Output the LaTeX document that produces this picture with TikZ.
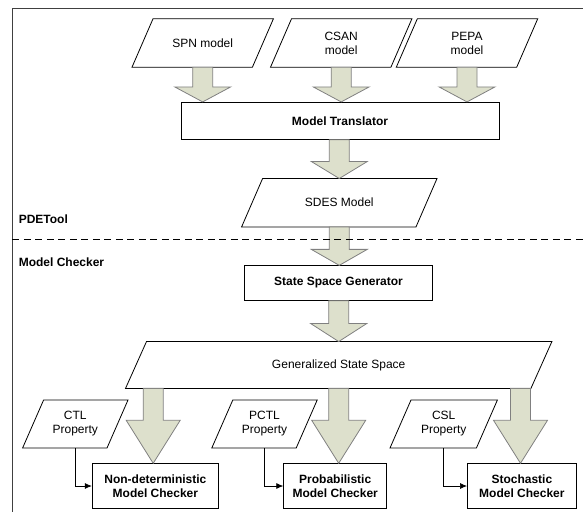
\documentclass[tikz,border=0pt]{standalone}
\usepackage{fontspec}
\setmainfont{Liberation Sans}
\usetikzlibrary{calc,arrows.meta}
\definecolor{arrfill}{HTML}{DDE0CC}
\definecolor{arrline}{HTML}{808080}
\tikzset{
  ptext/.style={draw=none,align=center,inner sep=0pt,font=\fontsize{12}{14}\selectfont},
  pline/.style={draw=black,line width=0.8pt,fill=white},
  boxnode/.style={draw=black,line width=0.8pt,fill=white,align=center,inner sep=0pt,font=\fontsize{12}{14.5}\selectfont\bfseries},
  fatarr/.style={draw=arrline,line width=0.8pt,fill=arrfill,line join=miter},
  lbl/.style={anchor=west,inner sep=0pt,font=\fontsize{12}{14}\selectfont\bfseries},
  conn/.style={draw=black,line width=0.7pt,-{Latex[length=7pt,width=6pt]}}
}
% parallelogram: name, position, side width, height, text
\newcommand\paranode[5]{%
  \node[ptext,minimum width=#3,minimum height=#4] (#1) at #2 {#5};
  \draw[pline] ([xshift=10.5pt]#1.north west) -- ([xshift=10.5pt]#1.north east)
     -- ([xshift=-10.5pt]#1.south east) -- ([xshift=-10.5pt]#1.south west) -- cycle;
  \node[ptext] at (#1.center) {#5};}
% fat arrow: start coordinate, end coordinate (tip y), head length, head half width
\newcommand\fatarrow[4]{%
  \draw[fatarr] let \p1=(#1), \p2=(#2) in
    (\x1-10pt,\y1) -- (\x1-10pt,\y2+#3) -- (\x1-#4,\y2+#3) -- (\x1,\y2)
    -- (\x1+#4,\y2+#3) -- (\x1+10pt,\y2+#3) -- (\x1+10pt,\y1) -- cycle;}
\begin{document}
\begin{tikzpicture}[x=1pt,y=-1pt]
\useasboundingbox (0,0) rectangle (583,512);
% frame
\draw[line width=0.8pt,draw=black!75] (583,8.2) -- (12.3,8.2) -- (12.3,512);

% input models
\paranode{spn}{(202.7,43)}{120}{48}{SPN model}
\paranode{csan}{(341.2,43)}{120}{48}{CSAN\\model}
\paranode{pepa}{(467,43)}{120}{48}{PEPA\\model}

\node[boxnode,minimum width=318pt,minimum height=37pt] (mt) at (340,120.8) {Model Translator};

\fatarrow{spn.south}{spn.south |- mt.north}{15pt}{28pt}
\fatarrow{csan.south}{csan.south |- mt.north}{15pt}{28pt}
\fatarrow{pepa.south}{pepa.south |- mt.north}{15pt}{28pt}

\paranode{sdes}{(339.3,202.7)}{174}{48}{SDES Model}
\fatarrow{mt.south -| sdes.north}{sdes.north}{17pt}{28pt}

\node[boxnode,minimum width=188pt,minimum height=34.5pt] (ssg) at (338.5,283) {State Space Generator};
\fatarrow{sdes.south}{sdes.south |- ssg.north}{16pt}{28pt}

\paranode{gss}{(338.7,365)}{405}{46.5}{Generalized State Space}
\fatarrow{ssg.south -| gss.north}{gss.north}{18pt}{28pt}

% checkers
\node[boxnode,minimum width=126.4pt,minimum height=44.6pt] (nd) at (155.4,486) {Non-deterministic\\Model Checker};
\node[boxnode,minimum width=103pt,minimum height=44.6pt] (pr) at (335.2,486) {Probabilistic\\Model Checker};
\node[boxnode,minimum width=109pt,minimum height=44.6pt] (st) at (521.9,486) {Stochastic\\Model Checker};

\coordinate (g1) at (153.2,388.3);
\coordinate (g2) at (338.7,388.3);
\coordinate (g3) at (520.5,388.3);
\fatarrow{g1}{g1 |- nd.north}{43pt}{27pt}
\fatarrow{g2}{g2 |- pr.north}{43pt}{27pt}
\fatarrow{g3}{g3 |- st.north}{43pt}{27pt}

% properties
\paranode{ctl}{(75.3,424)}{84}{47.6}{CTL\\Property}
\paranode{pctl}{(264.5,424)}{84}{47.6}{PCTL\\Property}
\paranode{csl}{(443.7,424)}{86}{47.6}{CSL\\Property}

\draw[conn] (ctl.south) |- (nd.west);
\draw[conn] (pctl.south) |- (pr.west);
\draw[conn] (csl.south) |- (st.west);

% separator
\draw[line width=0.8pt,dash pattern=on 7pt off 4.5pt] (12.3,239) -- (583,239);
\node[lbl] (pde) at (18.6,219) {PDETool};
\node[lbl] (mc) at (18.6,262) {Model Checker};
\end{tikzpicture}
\end{document}
